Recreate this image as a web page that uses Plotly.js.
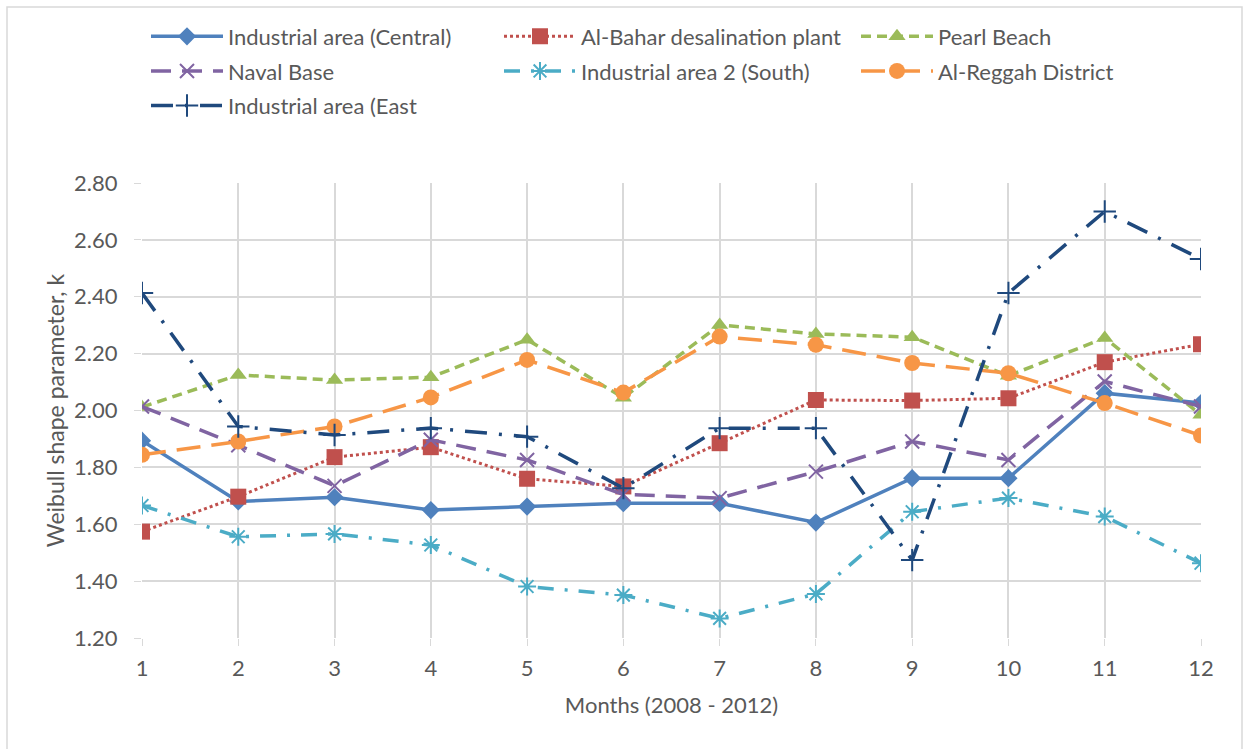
<!DOCTYPE html>
<html><head><meta charset="utf-8">
<script src="https://cdn.plot.ly/plotly-3.0.1.min.js"></script>
<style>body{margin:0;background:#fff}#c{width:1244px;height:749px}</style>
</head><body><div id="c"></div>
<script>
const months = [1,2,3,4,5,6,7,8,9,10,11,12];
const central = [1.894,1.680,1.695,1.650,1.662,1.674,1.674,1.606,1.762,1.762,2.061,2.026];
const alBahar = [1.574,1.697,1.836,1.871,1.760,1.733,1.885,2.037,2.035,2.043,2.170,2.233];
const pearlBeach = [2.012,2.125,2.107,2.117,2.249,2.045,2.301,2.269,2.258,2.122,2.255,1.985];
const navalBase = [2.014,1.878,1.735,1.897,1.826,1.705,1.692,1.785,1.891,1.826,2.102,2.014];
const south = [1.666,1.556,1.566,1.527,1.381,1.351,1.269,1.355,1.644,1.692,1.627,1.463];
const alReggah = [1.844,1.891,1.944,2.046,2.178,2.063,2.260,2.231,2.167,2.131,2.026,1.912];
const east = [2.413,1.944,1.914,1.938,1.908,1.727,1.938,1.938,1.474,2.413,2.700,2.533];
const yTicks = [1.2,1.4,1.6,1.8,2.0,2.2,2.4,2.6,2.8];

function tr(name, y, color, dash, width, symbol, size, mlw, leg){
  return {x: months, y: y, name: name, type:'scatter', mode:'lines+markers',
    legend: leg, legendgroup: name,
    line:{color:color, dash:dash, width:width},
    marker:{symbol:symbol, size:size, color:color, line:{color:color, width:mlw||0}}};
}
const data = [
  tr('Industrial area (Central)', central, '#4F81BD', 'solid', 3.5, 'diamond', 14, 0, 'legend'),
  tr('Al-Bahar desalination plant', alBahar, '#C0504D', 'dot', 3, 'square', 16, 0, 'legend2'),
  tr('Pearl Beach', pearlBeach, '#9BBB59', '10px,6px', 3.5, 'triangle-up', 15, 0, 'legend3'),
  tr('Naval Base', navalBase, '#8064A2', '20px,11px', 3.5, 'x-thin-open', 14, 2, 'legend'),
  tr('Industrial area 2 (South)', south, '#4BACC6', '16px,11px,3px,11px', 3.5, 'asterisk-open', 15, 2, 'legend2'),
  tr('Al-Reggah District', alReggah, '#F79646', '24px,11px', 3.5, 'circle', 16, 0, 'legend3'),
  tr('Industrial area (East', east, '#1F497D', '22px,12px,3px,12px', 3.5, 'cross-thin-open', 16, 2, 'legend')
];
const fam = 'Lato, Carlito, Calibri, sans-serif';
function leg(px){
  return {orientation:'v', x:(px-142)/1059, xanchor:'left', y:1.368, yanchor:'top',
    font:{size:22, color:'#595959', family:fam}, traceorder:'grouped',
    tracegroupgap:3, itemwidth:72, bgcolor:'rgba(0,0,0,0)'};
}
const layout = {
  width:1244, height:749,
  margin:{l:142, r:43, t:183, b:111},
  paper_bgcolor:'#fff', plot_bgcolor:'#fff',
  font:{family:fam, size:22, color:'#595959'},
  showlegend:true,
  legend:leg(146), legend2:leg(499), legend3:leg(856),
  xaxis:{range:[1,12], tickmode:'array', tickvals:months, ticktext:months.map(String),
    showgrid:true, gridcolor:'#D9D9D9', gridwidth:1.5, zeroline:false, showline:false,
    ticks:'outside', ticklen:7, tickcolor:'#D9D9D9', tickfont:{size:22, color:'#595959'},
    ticklabelstandoff:4,
    title:{text:'Months (2008 - 2012)', font:{size:22, color:'#595959'}, standoff:17}},
  yaxis:{range:[1.2,2.8], tickmode:'array', tickvals:yTicks, ticktext:yTicks.map(v=>v.toFixed(2)),
    showgrid:true, gridcolor:'#D9D9D9', gridwidth:1.5, zeroline:false, showline:false,
    ticks:'outside', ticklen:7, tickcolor:'#D9D9D9', tickfont:{size:22, color:'#595959'},
    ticklabelstandoff:12,
    title:{text:'Weibull shape parameter, k', font:{size:23, color:'#595959'}, standoff:3}},
  shapes:[{type:'rect', xref:'paper', yref:'paper', x0:(7-142)/1059, x1:(1242-142)/1059, y0:(638-760)/455, y1:(638-7)/455,
    line:{color:'#D9D9D9', width:1.5}}]
};
Plotly.newPlot('c', data, layout, {displayModeBar:false});
</script></body></html>
